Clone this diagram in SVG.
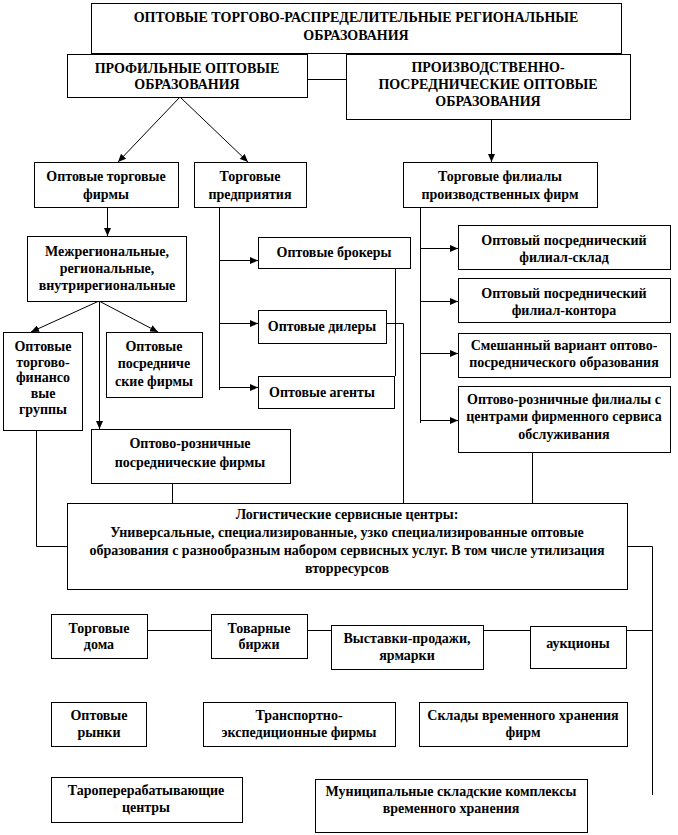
<svg xmlns="http://www.w3.org/2000/svg" width="678" height="835" viewBox="0 0 678 835">
<style>
rect{fill:#fff;stroke:#000;stroke-width:1}
text{font-weight:bold;font-size:14px;fill:#000;text-anchor:middle}
.c path{fill:none;stroke:#000;stroke-width:1}
.a{marker-end:url(#ah)}
</style>
<defs>
<marker id="ah" markerUnits="userSpaceOnUse" markerWidth="8" markerHeight="7" refX="8" refY="3.5" orient="auto"><path d="M0,0 L8,3.5 L0,7 z" fill="#000"/></marker>
</defs>
<g class="c" id="connectors">
<path d="M307,79.5 H346"/>
<path class="a" d="M180,97 L118,162"/>
<path class="a" d="M180,97 L248,162"/>
<path class="a" d="M491.5,119 V162"/>
<path class="a" d="M107.5,207 V236"/>
<path class="a" d="M99,301 L31,332"/>
<path class="a" d="M99,301 L158,332"/>
<path class="a" d="M99.5,301 V429"/>
<path d="M219.5,207 V390"/>
<path class="a" d="M219,260.5 H258"/>
<path class="a" d="M219,323.5 H258"/>
<path class="a" d="M219,387.5 H258"/>
<path d="M420.5,207 V423"/>
<path class="a" d="M420,248.5 H458"/>
<path class="a" d="M420,301.5 H458"/>
<path class="a" d="M420,353.5 H458"/>
<path class="a" d="M420,420.5 H458"/>
<path d="M395.5,268 V376"/>
<path d="M386,323.5 H403.5 V503"/>
<path d="M532.5,452 V503"/>
<path d="M172.5,483 V503"/>
<path d="M36.5,430 V546.5 H67"/>
<path d="M627,546.5 H652.5 V795"/>
<path d="M147,630.5 H211"/>
<path d="M307,630.5 H331"/>
<path d="M483,630.5 H530"/>
<path d="M626,630.5 H652"/>
</g>
<g id="nodes" font-family="'Liberation Serif', 'Times New Roman', 'DejaVu Serif', serif">
<g id="n-top"><rect x="91.5" y="3.5" width="530" height="50"/><text x="356" y="22">ОПТОВЫЕ ТОРГОВО-РАСПРЕДЕЛИТЕЛЬНЫЕ РЕГИОНАЛЬНЫЕ</text><text x="356" y="40">ОБРАЗОВАНИЯ</text></g>
<g id="n-profile"><rect x="67.5" y="54.5" width="240" height="43"/><text x="187" y="73">ПРОФИЛЬНЫЕ ОПТОВЫЕ</text><text x="187" y="89">ОБРАЗОВАНИЯ</text></g>
<g id="n-production"><rect x="346.5" y="54.5" width="284" height="65"/><text x="488" y="72">ПРОИЗВОДСТВЕННО-</text><text x="488" y="89">ПОСРЕДНИЧЕСКИЕ ОПТОВЫЕ</text><text x="488" y="106">ОБРАЗОВАНИЯ</text></g>
<g id="n-otf"><rect x="34.5" y="162.5" width="144" height="45"/><text x="106" y="181">Оптовые торговые</text><text x="106" y="199">фирмы</text></g>
<g id="n-tp"><rect x="194.5" y="162.5" width="112" height="45"/><text x="250" y="181">Торговые</text><text x="250" y="199">предприятия</text></g>
<g id="n-filials"><rect x="403.5" y="162.5" width="194" height="45"/><text x="500" y="181">Торговые филиалы</text><text x="500" y="199">производственных  фирм</text></g>
<g id="n-mezhreg"><rect x="27.5" y="236.5" width="159" height="65"/><text x="107" y="256">Межрегиональные,</text><text x="107" y="273">региональные,</text><text x="107" y="290">внутрирегиональные</text></g>
<g id="n-brokers"><rect x="258.5" y="237.5" width="152" height="31"/><text x="334" y="257">Оптовые брокеры</text></g>
<g id="n-dealers"><rect x="258.5" y="310.5" width="128" height="33"/><text x="322" y="331">Оптовые дилеры</text></g>
<g id="n-agents"><rect x="258.5" y="376.5" width="136" height="32"/><text x="322" y="397">Оптовые агенты</text></g>
<g id="n-sklad"><rect x="458.5" y="225.5" width="212" height="44"/><text x="564" y="245">Оптовый посреднический</text><text x="564" y="262">филиал-склад</text></g>
<g id="n-kontora"><rect x="458.5" y="278.5" width="212" height="44"/><text x="564" y="298">Оптовый посреднический</text><text x="564" y="315">филиал-контора</text></g>
<g id="n-mixed"><rect x="458.5" y="333.5" width="212" height="44"/><text x="564" y="350">Смешанный вариант  оптово-</text><text x="564" y="367">посреднического  образования</text></g>
<g id="n-retailfil"><rect x="458.5" y="386.5" width="212" height="66"/><text x="564" y="404">Оптово-розничные  филиалы  с</text><text x="564" y="421">центрами фирменного  сервиса</text><text x="564" y="439">обслуживания</text></g>
<g id="n-groups"><rect x="3.5" y="332.5" width="79" height="98"/><text x="43" y="351">Оптовые</text><text x="43" y="367">торгово-</text><text x="43" y="382">финансо</text><text x="43" y="398">вые</text><text x="43" y="414">группы</text></g>
<g id="n-intermed"><rect x="106.5" y="332.5" width="96" height="65"/><text x="154" y="351">Оптовые</text><text x="154" y="368">посредниче</text><text x="154" y="386">ские фирмы</text></g>
<g id="n-retailint"><rect x="91.5" y="429.5" width="199" height="54"/><text x="190" y="448">Оптово-розничные</text><text x="190" y="467">посреднические фирмы</text></g>
<g id="n-logistic"><rect x="67.5" y="503.5" width="560" height="86"/><text x="347" y="519">Логистические сервисные центры:</text><text x="347" y="537">Универсальные, специализированные,  узко специализированные  оптовые</text><text x="347" y="555">образования с разнообразным набором сервисных услуг. В том числе утилизация</text><text x="347" y="573">вторресурсов</text></g>
<g id="n-tdoma"><rect x="51.5" y="614.5" width="96" height="44"/><text x="99" y="633">Торговые</text><text x="99" y="649">дома</text></g>
<g id="n-birzhi"><rect x="211.5" y="614.5" width="96" height="44"/><text x="259" y="633">Товарные</text><text x="259" y="649">биржи</text></g>
<g id="n-vystavki"><rect x="331.5" y="625.5" width="152" height="44"/><text x="407" y="643">Выставки-продажи,</text><text x="407" y="660">ярмарки</text></g>
<g id="n-auction"><rect x="530.5" y="626.5" width="96" height="42"/><text x="578" y="648">аукционы</text></g>
<g id="n-rynki"><rect x="51.5" y="702.5" width="95" height="44"/><text x="99" y="720">Оптовые</text><text x="99" y="737">рынки</text></g>
<g id="n-transport"><rect x="203.5" y="702.5" width="192" height="44"/><text x="299" y="720">Транспортно-</text><text x="299" y="737">экспедиционные  фирмы</text></g>
<g id="n-sklady"><rect x="419.5" y="702.5" width="208" height="44"/><text x="523" y="720">Склады временного хранения</text><text x="523" y="737">фирм</text></g>
<g id="n-tara"><rect x="51.5" y="777.5" width="191" height="45"/><text x="146" y="795">Тароперерабатывающие</text><text x="146" y="812">центры</text></g>
<g id="n-munic"><rect x="315.5" y="779.5" width="272" height="53"/><text x="451" y="796">Муниципальные  складские комплексы</text><text x="451" y="813">временного хранения</text></g>
</g>
</svg>
